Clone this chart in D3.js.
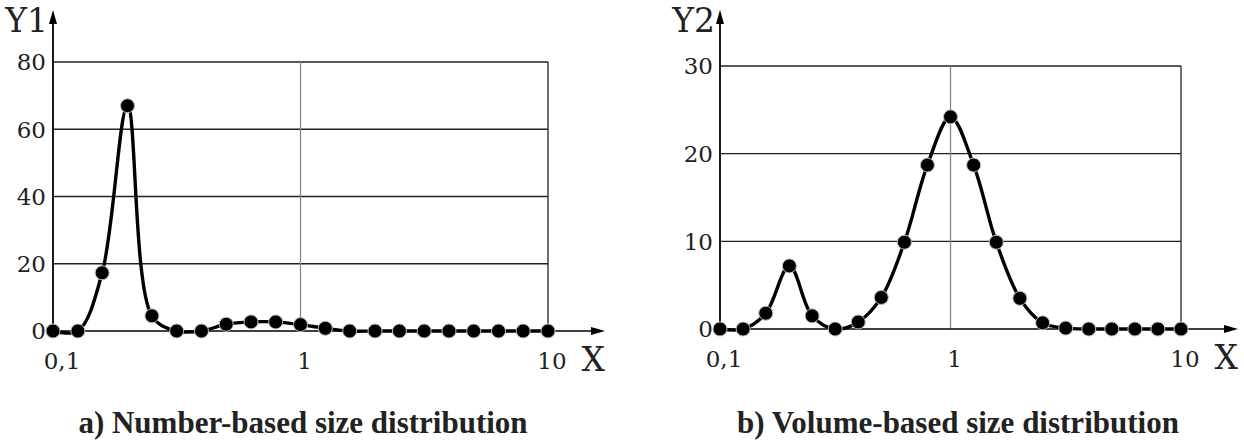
<!DOCTYPE html>
<html>
<head>
<meta charset="utf-8">
<script src="https://cdn.jsdelivr.net/npm/d3@7"></script>
<style>
  body { margin: 0; background: #fff; }
  text { font-family: "DejaVu Serif", serif; fill: #222; }
  .title { font-family: "Liberation Serif", serif; font-weight: bold; }
</style>
</head>
<body>
<script>
// particle sizes (log spaced grid)
const sizes = [0.1, 0.126, 0.158, 0.2, 0.251, 0.316, 0.398, 0.501, 0.631, 0.794,
               1, 1.26, 1.58, 2, 2.51, 3.16, 3.98, 5.01, 6.31, 7.94, 10];

// a) number based
const numberDist = [0, 0, 17.3, 67, 4.5, 0, 0, 2.0, 2.7, 2.7,
                    1.9, 0.8, 0, 0, 0, 0, 0, 0, 0, 0, 0];

// b) volume based
const volumeDist = [0, 0, 1.8, 7.2, 1.5, 0, 0.8, 3.6, 9.9, 18.7,
                    24.2, 18.7, 9.9, 3.5, 0.7, 0.1, 0, 0, 0, 0, 0];

const xTickValues = [0.1, 1, 10];
const xTickLabels = ["0,1", "1", "10"];
const y1Ticks = [0, 20, 40, 60, 80];
const y2Ticks = [0, 10, 20, 30];
const titles = ["a) Number-based size distribution", "b) Volume-based size distribution"];

const svg = d3.select("body").append("svg")
    .attr("width", 1244)
    .attr("height", 445);

// panel frames
const panels = [
    { values: numberDist, yTicks: y1Ticks, yName: "Y1", title: titles[0],
      left: 53, right: 548, top: 62, bottom: 331, arrowX: 605, labelShift: 9, titleX: 303 },
    { values: volumeDist, yTicks: y2Ticks, yName: "Y2", title: titles[1],
      left: 720, right: 1181, top: 66, bottom: 329, arrowX: 1238, labelShift: 4, titleX: 958 }
];

panels.forEach(p => drawPanel(p));

function drawPanel(p) {
    let x = d3.scaleLog()
        .domain([0.1, 10])
        .range([p.left, p.right]);

    let y = d3.scaleLinear()
        .domain([0, d3.max(p.yTicks)])
        .range([p.bottom, p.top]);

    let g = svg.append("g");

    // horizontal grid
    g.selectAll(".hgrid")
        .data(p.yTicks.filter(d => d > 0))
        .enter()
        .append("line")
        .attr("x1", p.left)
        .attr("x2", x(10))
        .attr("y1", d => y(d))
        .attr("y2", d => y(d))
        .attr("stroke", "#222")
        .attr("stroke-width", 1.3);

    // vertical grid at 1 and 10
    g.selectAll(".vgrid")
        .data([1, 10])
        .enter()
        .append("line")
        .attr("x1", d => x(d))
        .attr("x2", d => x(d))
        .attr("y1", y(d3.max(p.yTicks)))
        .attr("y2", p.bottom)
        .attr("stroke", d => d === 1 ? "#888" : "#222")
        .attr("stroke-width", 1.3);

    // axes with arrows
    g.append("line")
        .attr("x1", p.left).attr("x2", p.arrowX - 10)
        .attr("y1", p.bottom).attr("y2", p.bottom)
        .attr("stroke", "#000").attr("stroke-width", 1.5);
    g.append("path")
        .attr("d", `M${p.arrowX},${p.bottom} l-14,-4 l0,8 z`)
        .attr("fill", "#000");

    g.append("line")
        .attr("x1", p.left).attr("x2", p.left)
        .attr("y1", p.bottom).attr("y2", 20)
        .attr("stroke", "#000").attr("stroke-width", 1.8);
    g.append("path")
        .attr("d", `M${p.left},10 l-4,14 l8,0 z`)
        .attr("fill", "#000");

    // tick labels
    g.selectAll(".ytick")
        .data(p.yTicks)
        .enter()
        .append("text")
        .attr("x", p.left - 7)
        .attr("y", d => y(d))
        .attr("dy", "0.36em")
        .attr("text-anchor", "end")
        .attr("font-size", 23)
        .text(d => d);

    g.selectAll(".xtick")
        .data(xTickValues)
        .enter()
        .append("text")
        .attr("x", (d, i) => x(d) + (i === 0 ? p.labelShift : 4))
        .attr("y", p.bottom + 38)
        .attr("text-anchor", "middle")
        .attr("font-size", 23)
        .text((d, i) => xTickLabels[i]);

    // axis names
    g.append("text")
        .attr("x", p.left - 5)
        .attr("y", 32)
        .attr("text-anchor", "end")
        .attr("font-size", 33)
        .text(p.yName);

    g.append("text")
        .attr("x", p.arrowX)
        .attr("y", p.bottom + 40)
        .attr("text-anchor", "end")
        .attr("font-size", 33)
        .text("X");

    // smooth curve through points
    let line = d3.line()
        .x((d, i) => x(sizes[i]))
        .y(d => y(d))
        .curve(d3.curveCatmullRom.alpha(0.5));

    g.append("path")
        .datum(p.values)
        .attr("d", line)
        .attr("fill", "none")
        .attr("stroke", "#000")
        .attr("stroke-width", 3.4);

    g.selectAll(".pt")
        .data(p.values)
        .enter()
        .append("circle")
        .attr("cx", (d, i) => x(sizes[i]))
        .attr("cy", d => y(d))
        .attr("r", 7)
        .attr("fill", "#000")
        .attr("stroke", "#bbb")
        .attr("stroke-width", 1);

    // caption
    g.append("text")
        .attr("class", "title")
        .attr("x", p.titleX)
        .attr("y", 433)
        .attr("text-anchor", "middle")
        .attr("font-size", 31)
        .text(p.title);
}
</script>
</body>
</html>
